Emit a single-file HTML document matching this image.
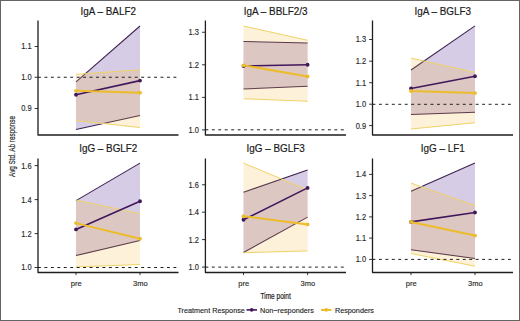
<!DOCTYPE html>
<html><head><meta charset="utf-8"><style>
html,body{margin:0;padding:0;background:#fff;}
body{width:520px;height:321px;overflow:hidden;}
svg{display:block;}
text{font-family:"Liberation Sans",sans-serif;fill:#222;}
.tk{font-size:8.6px;fill:#2a2a2a;stroke:#2a2a2a;stroke-width:0.15px;}
.ti{font-size:10.4px;fill:#1a1a1a;stroke:#1a1a1a;stroke-width:0.18px;}
.xl{font-size:8.1px;fill:#2a2a2a;stroke:#2a2a2a;stroke-width:0.15px;}
.yt{font-size:9px;fill:#1a1a1a;stroke:#1a1a1a;stroke-width:0.15px;}
.xt{font-size:9.2px;fill:#1a1a1a;stroke:#1a1a1a;stroke-width:0.2px;}
.lg{font-size:7.25px;fill:#222;stroke:#222;stroke-width:0.12px;}
</style></head><body>
<svg width="520" height="321" viewBox="0 0 520 321">
<rect x="0.5" y="0.5" width="519" height="320" fill="#fff" stroke="#646464" stroke-width="1"/>
<polygon points="76,81.9 140,26 140,115.5 76,129.4" fill="rgba(75,25,135,0.22)"/>
<line x1="76" y1="81.9" x2="140" y2="26" stroke="#3b2150" stroke-width="1.05"/>
<line x1="76" y1="129.4" x2="140" y2="115.5" stroke="#3b2150" stroke-width="1.05"/>
<polygon points="76,74.4 140,69.8 140,127.5 76,120.6" fill="rgba(245,178,45,0.18)"/>
<line x1="76" y1="74.4" x2="140" y2="69.8" stroke="#efd368" stroke-width="1"/>
<line x1="76" y1="120.6" x2="140" y2="127.5" stroke="#efd368" stroke-width="1"/>
<line x1="38" y1="77.25" x2="178.5" y2="77.25" stroke="#1e1e1e" stroke-width="1.0" stroke-dasharray="2.9 3.55"/>
<line x1="76" y1="94.75" x2="140" y2="80.6" stroke="#42185c" stroke-width="1.6"/>
<circle cx="76" cy="94.75" r="1.9" fill="#42185c"/><circle cx="140" cy="80.6" r="1.9" fill="#42185c"/>
<line x1="76" y1="90.8" x2="140" y2="92.75" stroke="#edbc2a" stroke-width="2"/>
<circle cx="76" cy="90.8" r="1.9" fill="#edbc2a"/><circle cx="140" cy="92.75" r="1.9" fill="#edbc2a"/>
<path d="M38,20.6 V135.0 H178.5" fill="none" stroke="#1e1e1e" stroke-width="1.3" stroke-linejoin="round"/>
<line x1="34.6" y1="46.5" x2="38" y2="46.5" stroke="#1e1e1e" stroke-width="0.9"/>
<text x="31.6" y="49.45" text-anchor="end" class="tk" textLength="10.4" lengthAdjust="spacingAndGlyphs">1.1</text>
<line x1="34.6" y1="77.25" x2="38" y2="77.25" stroke="#1e1e1e" stroke-width="0.9"/>
<text x="31.6" y="80.2" text-anchor="end" class="tk" textLength="10.4" lengthAdjust="spacingAndGlyphs">1.0</text>
<line x1="34.6" y1="108.5" x2="38" y2="108.5" stroke="#1e1e1e" stroke-width="0.9"/>
<text x="31.6" y="111.45" text-anchor="end" class="tk" textLength="10.4" lengthAdjust="spacingAndGlyphs">0.9</text>
<text x="108.25" y="14.9" text-anchor="middle" class="ti" textLength="55.45" lengthAdjust="spacingAndGlyphs">IgA – BALF2</text>
<polygon points="243.5,41.5 307.6,43.1 307.6,86.25 243.5,89" fill="rgba(75,25,135,0.22)"/>
<line x1="243.5" y1="41.5" x2="307.6" y2="43.1" stroke="#3b2150" stroke-width="1.05"/>
<line x1="243.5" y1="89" x2="307.6" y2="86.25" stroke="#3b2150" stroke-width="1.05"/>
<polygon points="243.5,26 307.6,40.25 307.6,101.25 243.5,98.75" fill="rgba(245,178,45,0.18)"/>
<line x1="243.5" y1="26" x2="307.6" y2="40.25" stroke="#efd368" stroke-width="1"/>
<line x1="243.5" y1="98.75" x2="307.6" y2="101.25" stroke="#efd368" stroke-width="1"/>
<line x1="205.4" y1="129.8" x2="346" y2="129.8" stroke="#1e1e1e" stroke-width="1.0" stroke-dasharray="2.9 3.55"/>
<line x1="243.5" y1="66" x2="307.6" y2="64.75" stroke="#42185c" stroke-width="1.6"/>
<circle cx="243.5" cy="66" r="1.9" fill="#42185c"/><circle cx="307.6" cy="64.75" r="1.9" fill="#42185c"/>
<line x1="243.5" y1="65.3" x2="307.6" y2="76.5" stroke="#edbc2a" stroke-width="2"/>
<circle cx="243.5" cy="65.3" r="1.9" fill="#edbc2a"/><circle cx="307.6" cy="76.5" r="1.9" fill="#edbc2a"/>
<path d="M205.4,20.6 V135.0 H346" fill="none" stroke="#1e1e1e" stroke-width="1.3" stroke-linejoin="round"/>
<line x1="202.0" y1="32.25" x2="205.4" y2="32.25" stroke="#1e1e1e" stroke-width="0.9"/>
<text x="199.0" y="35.2" text-anchor="end" class="tk" textLength="10.4" lengthAdjust="spacingAndGlyphs">1.3</text>
<line x1="202.0" y1="64.8" x2="205.4" y2="64.8" stroke="#1e1e1e" stroke-width="0.9"/>
<text x="199.0" y="67.75" text-anchor="end" class="tk" textLength="10.4" lengthAdjust="spacingAndGlyphs">1.2</text>
<line x1="202.0" y1="97.4" x2="205.4" y2="97.4" stroke="#1e1e1e" stroke-width="0.9"/>
<text x="199.0" y="100.35000000000001" text-anchor="end" class="tk" textLength="10.4" lengthAdjust="spacingAndGlyphs">1.1</text>
<line x1="202.0" y1="129.9" x2="205.4" y2="129.9" stroke="#1e1e1e" stroke-width="0.9"/>
<text x="199.0" y="132.85" text-anchor="end" class="tk" textLength="10.4" lengthAdjust="spacingAndGlyphs">1.0</text>
<text x="275.7" y="14.9" text-anchor="middle" class="ti" textLength="63.69" lengthAdjust="spacingAndGlyphs">IgA – BBLF2/3</text>
<polygon points="411,70 475,25.9 475,112.2 411,114.4" fill="rgba(75,25,135,0.22)"/>
<line x1="411" y1="70" x2="475" y2="25.9" stroke="#3b2150" stroke-width="1.05"/>
<line x1="411" y1="114.4" x2="475" y2="112.2" stroke="#3b2150" stroke-width="1.05"/>
<polygon points="411,58.1 475,72.5 475,122.7 411,129" fill="rgba(245,178,45,0.18)"/>
<line x1="411" y1="58.1" x2="475" y2="72.5" stroke="#efd368" stroke-width="1"/>
<line x1="411" y1="129" x2="475" y2="122.7" stroke="#efd368" stroke-width="1"/>
<line x1="372.5" y1="104.3" x2="513" y2="104.3" stroke="#1e1e1e" stroke-width="1.0" stroke-dasharray="2.9 3.55"/>
<line x1="411" y1="88.5" x2="475" y2="76.25" stroke="#42185c" stroke-width="1.6"/>
<circle cx="411" cy="88.5" r="1.9" fill="#42185c"/><circle cx="475" cy="76.25" r="1.9" fill="#42185c"/>
<line x1="411" y1="91" x2="475" y2="93.1" stroke="#edbc2a" stroke-width="2"/>
<circle cx="411" cy="91" r="1.9" fill="#edbc2a"/><circle cx="475" cy="93.1" r="1.9" fill="#edbc2a"/>
<path d="M372.5,20.6 V135.0 H513" fill="none" stroke="#1e1e1e" stroke-width="1.3" stroke-linejoin="round"/>
<line x1="369.1" y1="39.5" x2="372.5" y2="39.5" stroke="#1e1e1e" stroke-width="0.9"/>
<text x="366.1" y="42.45" text-anchor="end" class="tk" textLength="10.4" lengthAdjust="spacingAndGlyphs">1.3</text>
<line x1="369.1" y1="61.2" x2="372.5" y2="61.2" stroke="#1e1e1e" stroke-width="0.9"/>
<text x="366.1" y="64.15" text-anchor="end" class="tk" textLength="10.4" lengthAdjust="spacingAndGlyphs">1.2</text>
<line x1="369.1" y1="82.7" x2="372.5" y2="82.7" stroke="#1e1e1e" stroke-width="0.9"/>
<text x="366.1" y="85.65" text-anchor="end" class="tk" textLength="10.4" lengthAdjust="spacingAndGlyphs">1.1</text>
<line x1="369.1" y1="104.2" x2="372.5" y2="104.2" stroke="#1e1e1e" stroke-width="0.9"/>
<text x="366.1" y="107.15" text-anchor="end" class="tk" textLength="10.4" lengthAdjust="spacingAndGlyphs">1.0</text>
<line x1="369.1" y1="125.6" x2="372.5" y2="125.6" stroke="#1e1e1e" stroke-width="0.9"/>
<text x="366.1" y="128.54999999999998" text-anchor="end" class="tk" textLength="10.4" lengthAdjust="spacingAndGlyphs">0.9</text>
<text x="442.75" y="14.9" text-anchor="middle" class="ti" textLength="56.55" lengthAdjust="spacingAndGlyphs">IgA – BGLF3</text>
<polygon points="76,200.6 140,163.1 140,240.6 76,255.6" fill="rgba(75,25,135,0.22)"/>
<line x1="76" y1="200.6" x2="140" y2="163.1" stroke="#3b2150" stroke-width="1.05"/>
<line x1="76" y1="255.6" x2="140" y2="240.6" stroke="#3b2150" stroke-width="1.05"/>
<polygon points="76,200 140,213.7 140,264.5 76,266.9" fill="rgba(245,178,45,0.18)"/>
<line x1="76" y1="200" x2="140" y2="213.7" stroke="#efd368" stroke-width="1"/>
<line x1="76" y1="266.9" x2="140" y2="264.5" stroke="#efd368" stroke-width="1"/>
<line x1="38" y1="267.5" x2="178.5" y2="267.5" stroke="#1e1e1e" stroke-width="1.0" stroke-dasharray="2.9 3.55"/>
<line x1="76" y1="229.4" x2="140" y2="201.25" stroke="#42185c" stroke-width="1.6"/>
<circle cx="76" cy="229.4" r="1.9" fill="#42185c"/><circle cx="140" cy="201.25" r="1.9" fill="#42185c"/>
<line x1="76" y1="223.1" x2="140" y2="238.75" stroke="#edbc2a" stroke-width="2"/>
<circle cx="76" cy="223.1" r="1.9" fill="#edbc2a"/><circle cx="140" cy="238.75" r="1.9" fill="#edbc2a"/>
<path d="M38,158.5 V272.5 H178.5" fill="none" stroke="#1e1e1e" stroke-width="1.3" stroke-linejoin="round"/>
<line x1="34.6" y1="165.6" x2="38" y2="165.6" stroke="#1e1e1e" stroke-width="0.9"/>
<text x="31.6" y="168.54999999999998" text-anchor="end" class="tk" textLength="10.4" lengthAdjust="spacingAndGlyphs">1.6</text>
<line x1="34.6" y1="199.6" x2="38" y2="199.6" stroke="#1e1e1e" stroke-width="0.9"/>
<text x="31.6" y="202.54999999999998" text-anchor="end" class="tk" textLength="10.4" lengthAdjust="spacingAndGlyphs">1.4</text>
<line x1="34.6" y1="233.6" x2="38" y2="233.6" stroke="#1e1e1e" stroke-width="0.9"/>
<text x="31.6" y="236.54999999999998" text-anchor="end" class="tk" textLength="10.4" lengthAdjust="spacingAndGlyphs">1.2</text>
<line x1="34.6" y1="267.5" x2="38" y2="267.5" stroke="#1e1e1e" stroke-width="0.9"/>
<text x="31.6" y="270.45" text-anchor="end" class="tk" textLength="10.4" lengthAdjust="spacingAndGlyphs">1.0</text>
<text x="108.25" y="152.2" text-anchor="middle" class="ti" textLength="58.19" lengthAdjust="spacingAndGlyphs">IgG – BGLF2</text>
<line x1="76" y1="272.5" x2="76" y2="275.1" stroke="#1e1e1e" stroke-width="0.9"/>
<text x="76.3" y="285.9" text-anchor="middle" class="xl" textLength="10.9" lengthAdjust="spacingAndGlyphs">pre</text>
<line x1="140" y1="272.5" x2="140" y2="275.1" stroke="#1e1e1e" stroke-width="0.9"/>
<text x="140.3" y="285.9" text-anchor="middle" class="xl" textLength="14.6" lengthAdjust="spacingAndGlyphs">3mo</text>
<polygon points="243.5,192.25 307.6,170 307.6,217.1 243.5,252.5" fill="rgba(75,25,135,0.22)"/>
<line x1="243.5" y1="192.25" x2="307.6" y2="170" stroke="#3b2150" stroke-width="1.05"/>
<line x1="243.5" y1="252.5" x2="307.6" y2="217.1" stroke="#3b2150" stroke-width="1.05"/>
<polygon points="243.5,163.1 307.6,189.8 307.6,250.9 243.5,252.75" fill="rgba(245,178,45,0.18)"/>
<line x1="243.5" y1="163.1" x2="307.6" y2="189.8" stroke="#efd368" stroke-width="1"/>
<line x1="243.5" y1="252.75" x2="307.6" y2="250.9" stroke="#efd368" stroke-width="1"/>
<line x1="205.4" y1="267.1" x2="346" y2="267.1" stroke="#1e1e1e" stroke-width="1.0" stroke-dasharray="2.9 3.55"/>
<line x1="243.5" y1="219.75" x2="307.6" y2="187.9" stroke="#42185c" stroke-width="1.6"/>
<circle cx="243.5" cy="219.75" r="1.9" fill="#42185c"/><circle cx="307.6" cy="187.9" r="1.9" fill="#42185c"/>
<line x1="243.5" y1="216.25" x2="307.6" y2="224.4" stroke="#edbc2a" stroke-width="2"/>
<circle cx="243.5" cy="216.25" r="1.9" fill="#edbc2a"/><circle cx="307.6" cy="224.4" r="1.9" fill="#edbc2a"/>
<path d="M205.4,158.5 V272.5 H346" fill="none" stroke="#1e1e1e" stroke-width="1.3" stroke-linejoin="round"/>
<line x1="202.0" y1="184.75" x2="205.4" y2="184.75" stroke="#1e1e1e" stroke-width="0.9"/>
<text x="199.0" y="187.7" text-anchor="end" class="tk" textLength="10.4" lengthAdjust="spacingAndGlyphs">1.6</text>
<line x1="202.0" y1="212.2" x2="205.4" y2="212.2" stroke="#1e1e1e" stroke-width="0.9"/>
<text x="199.0" y="215.14999999999998" text-anchor="end" class="tk" textLength="10.4" lengthAdjust="spacingAndGlyphs">1.4</text>
<line x1="202.0" y1="239.6" x2="205.4" y2="239.6" stroke="#1e1e1e" stroke-width="0.9"/>
<text x="199.0" y="242.54999999999998" text-anchor="end" class="tk" textLength="10.4" lengthAdjust="spacingAndGlyphs">1.2</text>
<line x1="202.0" y1="267.1" x2="205.4" y2="267.1" stroke="#1e1e1e" stroke-width="0.9"/>
<text x="199.0" y="270.05" text-anchor="end" class="tk" textLength="10.4" lengthAdjust="spacingAndGlyphs">1.0</text>
<text x="275.7" y="152.2" text-anchor="middle" class="ti" textLength="58.19" lengthAdjust="spacingAndGlyphs">IgG – BGLF3</text>
<line x1="243.5" y1="272.5" x2="243.5" y2="275.1" stroke="#1e1e1e" stroke-width="0.9"/>
<text x="243.8" y="285.9" text-anchor="middle" class="xl" textLength="10.9" lengthAdjust="spacingAndGlyphs">pre</text>
<line x1="307.6" y1="272.5" x2="307.6" y2="275.1" stroke="#1e1e1e" stroke-width="0.9"/>
<text x="307.90000000000003" y="285.9" text-anchor="middle" class="xl" textLength="14.6" lengthAdjust="spacingAndGlyphs">3mo</text>
<polygon points="411,191.25 475,163.1 475,258.5 411,249.75" fill="rgba(75,25,135,0.22)"/>
<line x1="411" y1="191.25" x2="475" y2="163.1" stroke="#3b2150" stroke-width="1.05"/>
<line x1="411" y1="249.75" x2="475" y2="258.5" stroke="#3b2150" stroke-width="1.05"/>
<polygon points="411,183.1 475,205.5 475,266.2 411,253.5" fill="rgba(245,178,45,0.18)"/>
<line x1="411" y1="183.1" x2="475" y2="205.5" stroke="#efd368" stroke-width="1"/>
<line x1="411" y1="253.5" x2="475" y2="266.2" stroke="#efd368" stroke-width="1"/>
<line x1="372.5" y1="259.4" x2="513" y2="259.4" stroke="#1e1e1e" stroke-width="1.0" stroke-dasharray="2.9 3.55"/>
<line x1="411" y1="221.9" x2="475" y2="212.5" stroke="#42185c" stroke-width="1.6"/>
<circle cx="411" cy="221.9" r="1.9" fill="#42185c"/><circle cx="475" cy="212.5" r="1.9" fill="#42185c"/>
<line x1="411" y1="221.9" x2="475" y2="235.6" stroke="#edbc2a" stroke-width="2"/>
<circle cx="411" cy="221.9" r="1.9" fill="#edbc2a"/><circle cx="475" cy="235.6" r="1.9" fill="#edbc2a"/>
<path d="M372.5,158.5 V272.5 H513" fill="none" stroke="#1e1e1e" stroke-width="1.3" stroke-linejoin="round"/>
<line x1="369.1" y1="174.4" x2="372.5" y2="174.4" stroke="#1e1e1e" stroke-width="0.9"/>
<text x="366.1" y="177.35" text-anchor="end" class="tk" textLength="10.4" lengthAdjust="spacingAndGlyphs">1.4</text>
<line x1="369.1" y1="195.6" x2="372.5" y2="195.6" stroke="#1e1e1e" stroke-width="0.9"/>
<text x="366.1" y="198.54999999999998" text-anchor="end" class="tk" textLength="10.4" lengthAdjust="spacingAndGlyphs">1.3</text>
<line x1="369.1" y1="216.9" x2="372.5" y2="216.9" stroke="#1e1e1e" stroke-width="0.9"/>
<text x="366.1" y="219.85" text-anchor="end" class="tk" textLength="10.4" lengthAdjust="spacingAndGlyphs">1.2</text>
<line x1="369.1" y1="238.1" x2="372.5" y2="238.1" stroke="#1e1e1e" stroke-width="0.9"/>
<text x="366.1" y="241.04999999999998" text-anchor="end" class="tk" textLength="10.4" lengthAdjust="spacingAndGlyphs">1.1</text>
<line x1="369.1" y1="259.4" x2="372.5" y2="259.4" stroke="#1e1e1e" stroke-width="0.9"/>
<text x="366.1" y="262.34999999999997" text-anchor="end" class="tk" textLength="10.4" lengthAdjust="spacingAndGlyphs">1.0</text>
<text x="442.75" y="152.2" text-anchor="middle" class="ti" textLength="43.92" lengthAdjust="spacingAndGlyphs">IgG – LF1</text>
<line x1="411" y1="272.5" x2="411" y2="275.1" stroke="#1e1e1e" stroke-width="0.9"/>
<text x="411.3" y="285.9" text-anchor="middle" class="xl" textLength="10.9" lengthAdjust="spacingAndGlyphs">pre</text>
<line x1="475" y1="272.5" x2="475" y2="275.1" stroke="#1e1e1e" stroke-width="0.9"/>
<text x="475.3" y="285.9" text-anchor="middle" class="xl" textLength="14.6" lengthAdjust="spacingAndGlyphs">3mo</text>
<text transform="translate(14.7,146.5) rotate(-90)" text-anchor="middle" class="yt" textLength="61" lengthAdjust="spacingAndGlyphs">Avg Std. Ab response</text>
<text x="275.6" y="298.8" text-anchor="middle" class="xt" textLength="30.3" lengthAdjust="spacingAndGlyphs">Time point</text>
<text x="177.4" y="312.5" class="lg">Treatment Response</text>
<line x1="246.5" y1="309.9" x2="257" y2="309.9" stroke="#42185c" stroke-width="1.6"/><circle cx="251.7" cy="309.9" r="1.8" fill="#42185c"/>
<text x="260" y="312.5" class="lg">Non−responders</text>
<line x1="321" y1="309.9" x2="331.5" y2="309.9" stroke="#edbc2a" stroke-width="2"/><circle cx="326.2" cy="309.9" r="1.8" fill="#edbc2a"/>
<text x="334.9" y="312.5" class="lg">Responders</text>
</svg>
</body></html>
